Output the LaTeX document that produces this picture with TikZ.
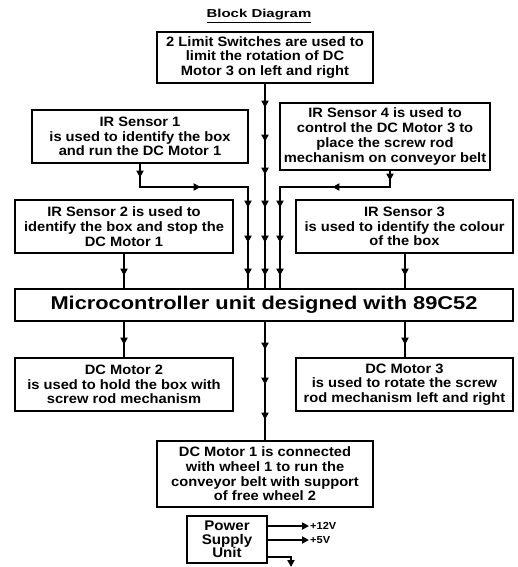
\documentclass[tikz,border=0pt]{standalone}
\usepackage{fontspec}
\setmainfont{Liberation Sans}
\newfontfamily\bxfont[FakeStretch=1.08]{Liberation Sans}
\newfontfamily\mcufont[FakeStretch=1.18]{Liberation Sans}
\newfontfamily\ttlfont[FakeStretch=1.3]{Liberation Sans}
\usetikzlibrary{arrows.meta,decorations.markings}
\tikzset{
  blk/.style={draw, line width=1.3pt, inner sep=0pt, align=center, font=\bxfont\bfseries\fontsize{13.6}{14.7}\selectfont},
  wire/.style={line width=1.8pt},
  tipA/.style={-{Triangle[length=7pt,width=7pt]}},
  am/.style={postaction={decorate, decoration={markings, mark=at position #1 with {\arrow{Triangle[length=7pt,width=7pt]}}}}},
  lbl/.style={anchor=west, inner sep=0pt, font=\bxfont\bfseries\fontsize{10.2}{12}\selectfont},
}
\begin{document}
\begin{tikzpicture}[x=1pt,y=-1pt]
\useasboundingbox (0,0) rectangle (518,567);
\node[font=\ttlfont\bfseries\fontsize{11.5}{12}\selectfont] (title) at (259,16) {\underline{Block Diagram}};
\node[blk, minimum width=216pt, minimum height=51pt] (lim) at (265,57.5) {2 Limit Switches are used to\\limit the rotation of DC\\Motor 3 on left and right};
\node[blk, minimum width=216pt, minimum height=53pt] (ir1) at (140,136.5) {IR Sensor 1\\is used to identify the box\\and run the DC Motor 1};
\node[blk, minimum width=210pt, minimum height=67pt] (ir4) at (385,136.5) {IR Sensor 4 is used to\\control the DC Motor 3 to\\place the screw rod\\mechanism on conveyor belt};
\node[blk, minimum width=218pt, minimum height=53pt] (ir2) at (124,226.5) {IR Sensor 2 is used to\\identify the box and stop the\\DC Motor 1};
\node[blk, minimum width=217pt, minimum height=53pt] (ir3) at (404.5,226.5) {IR Sensor 3\\is used to identify the colour\\of the box};
\node[blk, minimum width=498pt, minimum height=32pt, font=\mcufont\bfseries\fontsize{18.5}{20}\selectfont] (mcu) at (264,305) {Microcontroller unit designed with 89C52};
\node[blk, minimum width=218pt, minimum height=53pt] (dc2) at (124,384.5) {DC Motor 2\\is used to hold the box with\\screw rod mechanism};
\node[blk, minimum width=217pt, minimum height=53pt] (dc3) at (404.5,384.5) {DC Motor 3\\is used to rotate the screw\\rod mechanism left and right};
\node[blk, minimum width=216pt, minimum height=66pt] (dc1) at (265,474) {DC Motor 1 is connected\\with wheel 1 to run the\\conveyor belt with support\\of free wheel 2};
\node[blk, minimum width=80pt, minimum height=47pt, font=\bxfont\bfseries\fontsize{14}{13.5}\selectfont] (psu) at (227,539.5) {Power\\Supply\\Unit};
\node[lbl] (v12) at (310,526) {+12V};
\node[lbl] (v5) at (310,540) {+5V};
\coordinate (j1) at (248,187);
\coordinate (j4) at (280,187);
\coordinate (gnd) at (291,567);
% center line
\draw[wire, am=24pt, am=58pt, am=91pt, am=124pt, am=159pt, am=192pt] (lim.south) -- (lim.south |- mcu.north);
% IR1
\draw[wire, am=14pt, am=84pt, am=152pt, am=187pt, am=220pt] (ir1.south) |- (j1) -- (j1 |- mcu.north);
% IR4
\draw[wire, am=10pt, am=74pt, am=147pt, am=182pt, am=215pt] ([xshift=5pt]ir4.south) |- (j4) -- (j4 |- mcu.north);
% IR2, IR3
\draw[wire, am=22pt] (ir2.south) -- (ir2.south |- mcu.north);
\draw[wire, am=22pt] ([xshift=0.5pt]ir3.south) -- ([xshift=0.5pt]ir3.south |- mcu.north);
% outputs
\draw[wire, am=23pt] (mcu.south -| dc2.north) -- (dc2.north);
\draw[wire, am=23pt] ([xshift=0.5pt]mcu.south -| dc3.north) -- ([xshift=0.5pt]dc3.north);
\draw[wire, am=28pt, am=63pt, am=98pt] (mcu.south -| dc1.north) -- (dc1.north);
% power
\draw[wire, tipA] (psu.east |- v12.west) -- ([xshift=-1pt]v12.west);
\draw[wire, tipA] (psu.east |- v5.west) -- ([xshift=-1pt]v5.west);
\draw[wire, tipA] ([yshift=-17.5pt]psu.east) -| (gnd);
\end{tikzpicture}
\end{document}
